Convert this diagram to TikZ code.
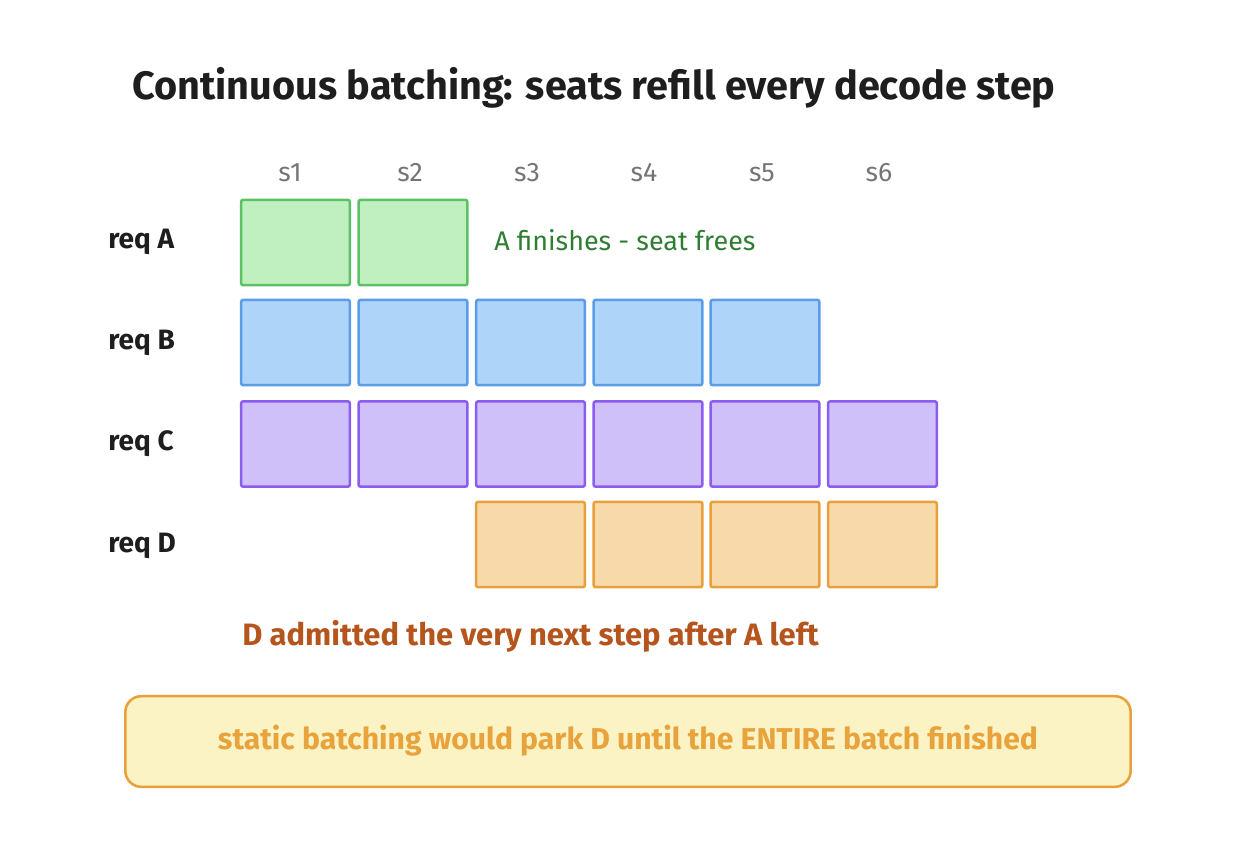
\documentclass[tikz,border=0pt]{standalone}
\usepackage{fontspec}
\setmainfont{Fira Sans}
\definecolor{ink}{HTML}{1E1E1E}
\definecolor{gray}{HTML}{757575}
\definecolor{gfill}{HTML}{C0EFC0}
\definecolor{gline}{HTML}{5CC065}
\definecolor{bfill}{HTML}{AED5F9}
\definecolor{bline}{HTML}{5B9CE8}
\definecolor{pfill}{HTML}{D0C0FA}
\definecolor{pline}{HTML}{8A5CF0}
\definecolor{ofill}{HTML}{F8D9AA}
\definecolor{oline}{HTML}{E8A03A}
\definecolor{gtext}{HTML}{2F7D32}
\definecolor{btext}{HTML}{B5541C}
\definecolor{nfill}{HTML}{FCF3C5}
\definecolor{ntext}{HTML}{E8A33C}
\tikzset{
  cell/.style={draw, line width=1.9pt, rounded corners=1.5pt, minimum width=81.5pt, minimum height=64pt, inner sep=0pt},
  gcell/.style={cell, draw=gline, fill=gfill},
  bcell/.style={cell, draw=bline, fill=bfill},
  pcell/.style={cell, draw=pline, fill=pfill},
  ocell/.style={cell, draw=oline, fill=ofill},
  collab/.style={text=gray, inner sep=0pt, font=\fontsize{20}{24}\selectfont},
  rowlab/.style={text=ink, inner sep=0pt, font=\fontsize{21}{25}\selectfont\bfseries, anchor=west},
}
\begin{document}
\begin{tikzpicture}[x=0.75pt,y=-0.75pt]
\useasboundingbox (0,0) rectangle (1240,844);
\node[text=ink, inner sep=0pt, font=\fontsize{29.7}{34}\selectfont\bfseries] (title) at (594,88) {Continuous batching: seats refill every decode step};
% column labels
\node[collab] (c1) at (290,173) {s1};
\node[collab] (c2) at (410,173) {s2};
\node[collab] (c3) at (527,173) {s3};
\node[collab] (c4) at (644,173) {s4};
\node[collab] (c5) at (762,173) {s5};
\node[collab] (c6) at (879,173) {s6};
% row labels
\node[rowlab] (rA) at (108,242) {req A};
\node[rowlab] (rB) at (108,343) {req B};
\node[rowlab] (rC) at (108,444) {req C};
\node[rowlab] (rD) at (108,546) {req D};
% row A
\node[gcell] (a1) at (295.5,242.5) {};
\node[gcell] (a2) at (413,242.5) {};
% row B
\node[bcell] (b1) at (295.5,342.5) {};
\node[bcell] (b2) at (413,342.5) {};
\node[bcell] (b3) at (530.5,342.5) {};
\node[bcell] (b4) at (648,342.5) {};
\node[bcell] (b5) at (765,342.5) {};
% row C
\node[pcell] (p1) at (295.5,444) {};
\node[pcell] (p2) at (413,444) {};
\node[pcell] (p3) at (530.5,444) {};
\node[pcell] (p4) at (648,444) {};
\node[pcell] (p5) at (765,444) {};
\node[pcell] (p6) at (882.5,444) {};
% row D
\node[ocell] (d3) at (530.5,544.5) {};
\node[ocell] (d4) at (648,544.5) {};
\node[ocell] (d5) at (765,544.5) {};
\node[ocell] (d6) at (882.5,544.5) {};
% annotations
\node[text=gtext, inner sep=0pt, font=\fontsize{20.2}{24}\selectfont, anchor=west] (fin) at (494,240) {A finishes - seat frees};
\node[text=btext, inner sep=0pt, font=\fontsize{23.2}{27}\selectfont\bfseries, anchor=west] (adm) at (242,636) {D admitted the very next step after A left};
\node[draw=oline, fill=nfill, line width=1.9pt, rounded corners=12pt, minimum width=754pt, minimum height=68pt] (note) at (628,741.5) {};
\node[text=ntext, inner sep=0pt, font=\fontsize{22.6}{27}\selectfont\bfseries] (notetext) at (628,741) {static batching would park D until the ENTIRE batch finished};
\end{tikzpicture}
\end{document}
